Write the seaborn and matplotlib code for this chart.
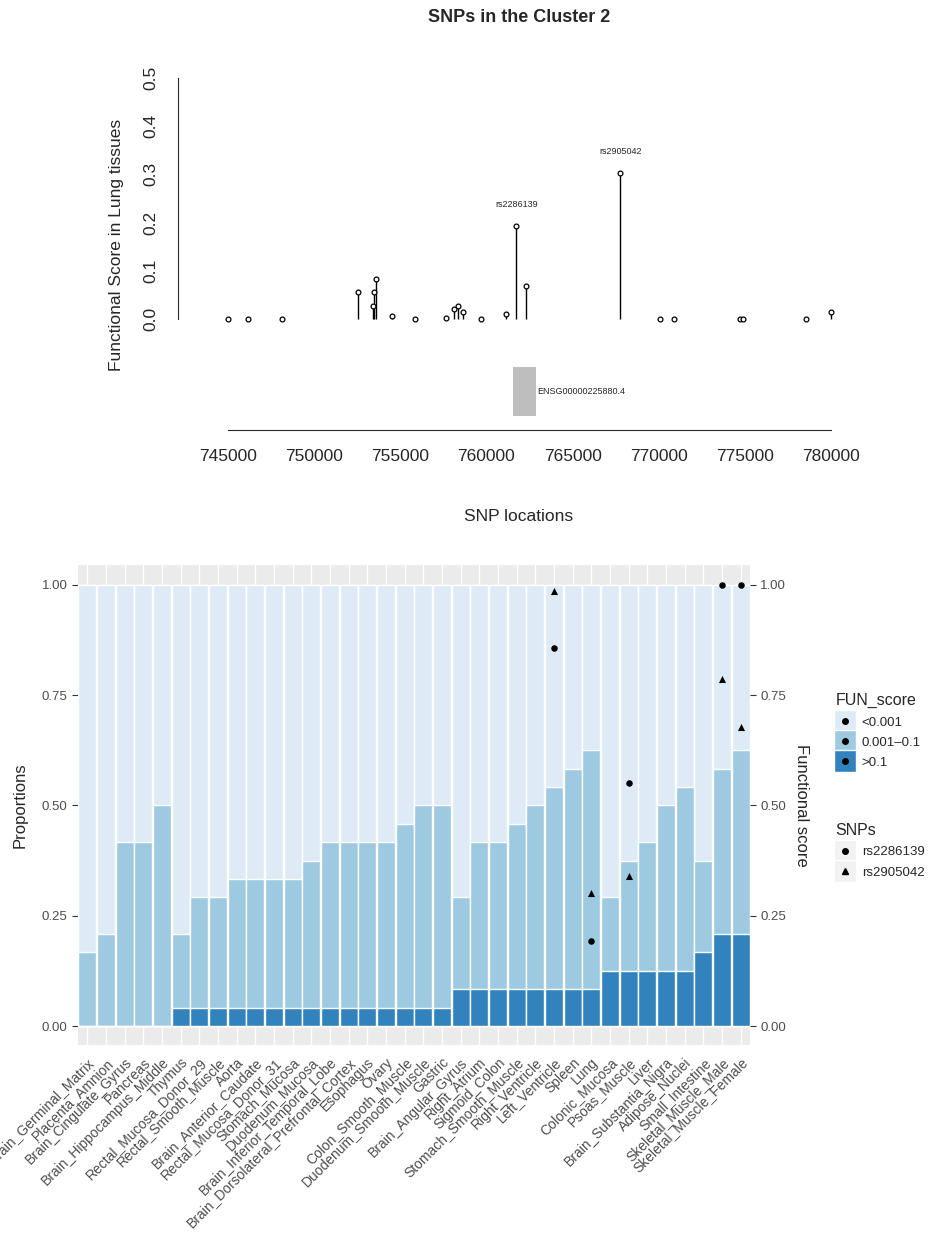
import matplotlib
matplotlib.use("Agg")
import matplotlib.pyplot as plt
import seaborn as sns
import pandas as pd
import numpy as np
from matplotlib.lines import Line2D
from matplotlib.legend_handler import HandlerTuple

sns.set_style("white")
plt.rcParams['font.family'] = ['Liberation Sans', 'DejaVu Sans']

# ---- top panel data
snp_pos = [745000, 746180, 748110, 752570, 753400, 753470, 753570, 754500, 755880, 757630,
           758130, 758330, 758630, 759680, 761140, 761740, 762270, 767780, 770060, 770910,
           774720, 774870, 778530, 780010]
snp_score = [0, 0, 0, 0.057, 0.028, 0.057, 0.083, 0.007, 0, 0.002,
             0.02, 0.028, 0.014, 0, 0.01, 0.193, 0.069, 0.302, 0, 0,
             0, 0, 0, 0.014]
label_snps = {"rs2286139": (761740, 0.193), "rs2905042": (767780, 0.302)}
gene_name = "ENSG00000225880.4"
gene_start, gene_end = 761570, 762900

# ---- bottom panel data
tissues = ["Brain_Germinal_Matrix", "Placenta_Amnion", "Brain_Cingulate_Gyrus", "Pancreas",
           "Brain_Hippocampus_Middle", "Thymus", "Rectal_Mucosa_Donor_29", "Rectal_Smooth_Muscle",
           "Aorta", "Brain_Anterior_Caudate", "Rectal_Mucosa_Donor_31", "Stomach_Mucosa",
           "Duodenum_Mucosa", "Brain_Inferior_Temporal_Lobe", "Brain_Dorsolateral_Prefrontal_Cortex",
           "Esophagus", "Ovary", "Colon_Smooth_Muscle", "Duodenum_Smooth_Muscle", "Gastric",
           "Brain_Angular_Gyrus", "Right_Atrium", "Sigmoid_Colon", "Stomach_Smooth_Muscle",
           "Right_Ventricle", "Left_Ventricle", "Spleen", "Lung", "Colonic_Mucosa", "Psoas_Muscle",
           "Liver", "Brain_Substantia_Nigra", "Adipose_Nuclei", "Small_Intestine",
           "Skeletal_Muscle_Male", "Skeletal_Muscle_Female"]
mid_top = [0.167, 0.208, 0.417, 0.417, 0.5, 0.208, 0.292, 0.292, 0.333, 0.333, 0.333, 0.333,
           0.375, 0.417, 0.417, 0.417, 0.417, 0.458, 0.5, 0.5, 0.292, 0.417, 0.417, 0.458,
           0.5, 0.542, 0.583, 0.625, 0.292, 0.375, 0.417, 0.5, 0.542, 0.375, 0.583, 0.625]
dark_top = [0, 0, 0, 0, 0] + [0.042] * 15 + [0.083] * 8 + [0.125] * 5 + [0.167, 0.208, 0.208]
pt_tissue = ["Left_Ventricle", "Lung", "Psoas_Muscle", "Skeletal_Muscle_Male", "Skeletal_Muscle_Female"]
rs2286139_score = [0.857, 0.193, 0.552, 1.0, 1.0]
rs2905042_score = [0.985, 0.302, 0.340, 0.787, 0.677]

c_light, c_mid, c_dark = "#deebf7", "#9ecae1", "#3182bd"

W, H = 947, 1244
fig = plt.figure(figsize=(W / 100, H / 100), dpi=100)

def rect(l, t, r, b):
    return [l / W, 1 - b / H, (r - l) / W, (b - t) / H]

# ---------- top
ax = fig.add_axes(rect(178, 60, 860, 430))
ax.set_xlim(742100, 781680)
ax.set_ylim(-0.23, 0.537)
ax.vlines(snp_pos, 0, snp_score, color="black", lw=1)
ax.scatter(snp_pos, snp_score, s=12, facecolor="white", edgecolor="black", lw=0.9, zorder=3)
for name, (x, y) in label_snps.items():
    ax.text(x, y + 0.035, name, ha="center", va="bottom", fontsize=6.5)
ax.fill_between([gene_start, gene_end], -0.201, -0.1, color="#bebebe", lw=0)
ax.text((gene_start + gene_end) / 2 + 700, -0.15, gene_name, ha="left", va="center", fontsize=6.5)
for s in ["top", "right"]:
    ax.spines[s].set_visible(False)
ax.spines["left"].set_bounds(0, 0.5)
ax.spines["bottom"].set_bounds(745000, 780000)
ax.set_yticks([0, 0.1, 0.2, 0.3, 0.4, 0.5])
ax.set_yticklabels(["0.0", "0.1", "0.2", "0.3", "0.4", "0.5"], rotation=90, va="center", fontsize=12.5)
ax.set_xticks(list(range(745000, 780001, 5000)))
ax.set_xticklabels([str(v) for v in range(745000, 780001, 5000)], fontsize=12.5)
ax.tick_params(axis="both", length=6, width=0.8, color="black", direction="out", pad=8)
ax.set_ylabel("Functional Score in Lung tissues", fontsize=12.5, labelpad=14)
ax.set_xlabel("SNP locations", fontsize=12.5, labelpad=32)
fig.text((178 + 860) / 2 / W, 1 - 18 / H, "SNPs in the Cluster 2", ha="center", va="center",
         fontsize=13, fontweight="bold")

# ---------- bottom
bx = fig.add_axes(rect(78, 565, 750, 1045))
bx.set_facecolor("#EBEBEB")
df = pd.DataFrame({"tissue": tissues, "full": [1.0] * len(tissues), "mid": mid_top, "dark": dark_top})
for col, c in (("full", c_light), ("mid", c_mid), ("dark", c_dark)):
    sns.barplot(data=df, x="tissue", y=col, order=tissues, color=c, width=0.96, ax=bx,
                saturation=1, zorder=2)
pos = [tissues.index(t) for t in pt_tissue]
sns.scatterplot(x=pos, y=rs2286139_score, marker="o", color="black", s=22, ax=bx, zorder=4, linewidth=0)
sns.scatterplot(x=pos, y=rs2905042_score, marker="^", color="black", s=26, ax=bx, zorder=4, linewidth=0)
bx.set_xlim(-0.5, len(tissues) - 0.5)
bx.set_ylim(-0.043, 1.045)
bx.grid(True, color="white", lw=1, zorder=0)
bx.set_axisbelow(True)
for s in bx.spines.values():
    s.set_visible(False)
bx.set_yticks([0, 0.25, 0.5, 0.75, 1.0])
bx.set_yticklabels(["0.00", "0.25", "0.50", "0.75", "1.00"], fontsize=9.5, color="#4D4D4D")
bx.set_xticks(range(len(tissues)))
bx.set_xticklabels(tissues, rotation=45, ha="right", rotation_mode="anchor", fontsize=10, color="#4D4D4D")
bx.tick_params(axis="both", length=4, color="#333333", width=0.8)
bx.set_xlabel("")
bx.set_ylabel("Proportions", fontsize=12, labelpad=10)
rx = bx.twinx()
rx.set_ylim(bx.get_ylim())
for s in rx.spines.values():
    s.set_visible(False)
rx.set_yticks([0, 0.25, 0.5, 0.75, 1.0])
rx.set_yticklabels(["0.00", "0.25", "0.50", "0.75", "1.00"], fontsize=9.5, color="#4D4D4D")
rx.tick_params(axis="y", length=4, color="#333333", width=0.8)
rx.set_ylabel("Functional score", fontsize=12, rotation=270, labelpad=16)

# legends
h1 = [Line2D([], [], marker="s", ls="", markersize=16, markerfacecolor=c, markeredgecolor="white")
      for c in (c_light, c_mid, c_dark)]
dots = [Line2D([], [], marker="o", ls="", markersize=4, color="black")] * 3
fig.legend([(a, b) for a, b in zip(h1, dots)], ["<0.001", "0.001\u20130.1", ">0.1"],
           handler_map={tuple: HandlerTuple(ndivide=1)}, title="FUN_score",
           loc="upper left", bbox_to_anchor=(830 / W, 1 - 688 / H), frameon=False,
           fontsize=9.5, title_fontsize=11.5, alignment="left", handlelength=1.4,
           labelspacing=0.6, handletextpad=0.6, borderaxespad=0)
bg = Line2D([], [], marker="s", ls="", markersize=16, markerfacecolor="#F2F2F2", markeredgecolor="white")
h2 = [(bg, Line2D([], [], marker="o", ls="", markersize=4, color="black")),
      (bg, Line2D([], [], marker="^", ls="", markersize=5, color="black"))]
fig.legend(h2, ["rs2286139", "rs2905042"], handler_map={tuple: HandlerTuple(ndivide=1)},
           title="SNPs", loc="upper left", bbox_to_anchor=(830 / W, 1 - 818 / H), frameon=False,
           fontsize=9.5, title_fontsize=11.5, alignment="left", handlelength=1.4,
           labelspacing=0.6, handletextpad=0.6, borderaxespad=0)

fig.savefig("out.png", dpi=100)
